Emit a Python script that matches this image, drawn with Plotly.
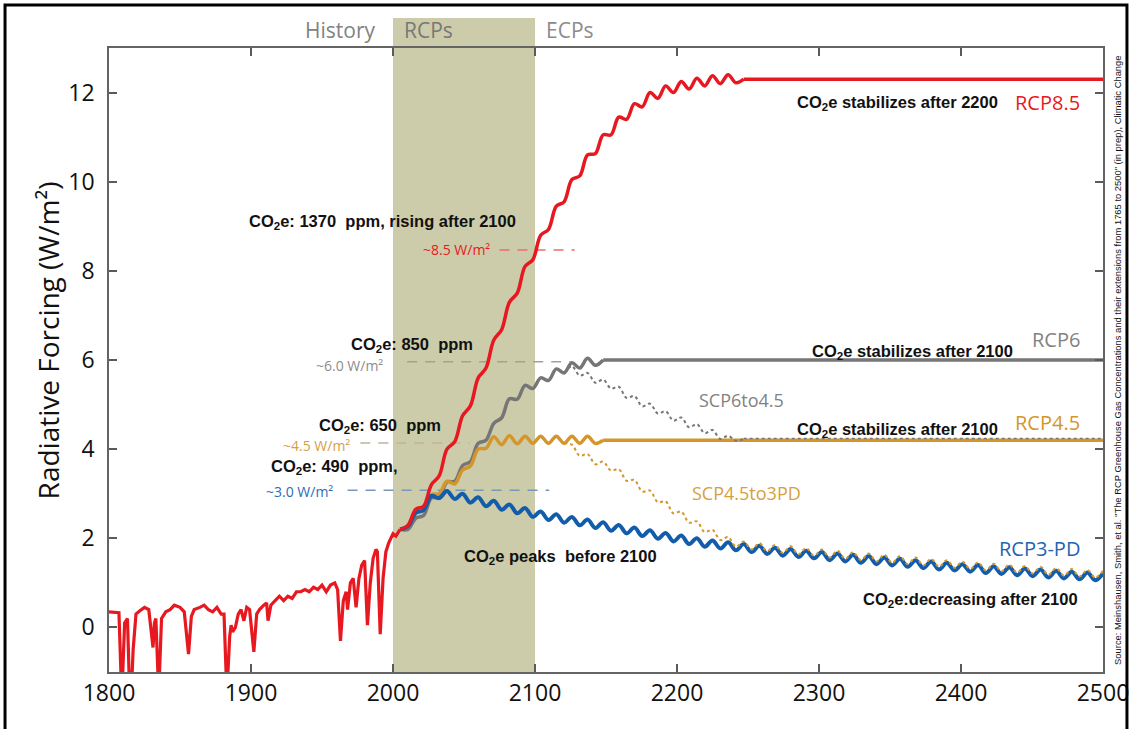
import plotly.graph_objects as go

# ---------------- data ----------------
hist_years = [1800, 1805, 1807, 1809, 1811, 1813, 1815, 1817, 1819, 1822, 1825, 1828,
              1831, 1832, 1833, 1835, 1837, 1840, 1843, 1846, 1850, 1853, 1856, 1858,
              1860, 1864, 1867, 1870, 1873, 1876, 1879, 1881, 1883, 1885, 1886, 1887,
              1889, 1891, 1893, 1895, 1897, 1899, 1902, 1904, 1906, 1909, 1911, 1912,
              1914, 1917, 1920, 1923, 1926, 1929, 1932, 1935, 1938, 1941, 1944, 1947,
              1950, 1953, 1956, 1959, 1961, 1963, 1965, 1967, 1968, 1970, 1972, 1974,
              1976, 1978, 1980, 1982, 1984, 1986, 1988, 1989, 1991, 1993, 1995, 1997,
              2000, 2002, 2005]
hist_vals = [0.35, 0.33, 0.33, -1.6, 0.1, 0.2, -2.0, -0.5, 0.3, 0.38, 0.45, 0.4,
             -0.45, 0.1, 0.2, -1.5, 0.2, 0.35, 0.4, 0.5, 0.45, 0.35, -0.6, 0.25,
             0.4, 0.45, 0.5, 0.4, 0.35, 0.45, 0.3, 0.3, -1.5, -0.2, 0.05, -0.1,
             0.0, 0.3, 0.4, 0.15, 0.45, 0.4, -0.55, 0.3, 0.4, 0.5, 0.55, 0.15,
             0.5, 0.6, 0.7, 0.6, 0.7, 0.65, 0.8, 0.8, 0.85, 0.8, 0.9, 0.85,
             0.95, 0.8, 0.95, 1.0, 0.85, -0.3, 0.6, 0.8, 0.4, 1.0, 1.1, 0.45,
             1.1, 1.4, 1.5, 0.05, 1.0, 1.55, 1.75, 1.7, -0.15, 1.1, 1.7, 1.9,
             2.1, 2.05, 2.2]

# sample years at peaks / troughs of the ~11-year solar cycle
years_grid = [2005, 2010.5, 2016, 2021.5, 2027, 2032.5, 2038, 2043.5, 2049, 2054.5,
              2060, 2065.5, 2071, 2076.5, 2082, 2087.5, 2093, 2098.5, 2104, 2109.5,
              2115, 2120.5, 2126, 2131.5, 2137, 2142.5, 2148, 2153.5, 2159, 2164.5,
              2170, 2175.5, 2181, 2186.5, 2192, 2197.5, 2203, 2208.5, 2214, 2219.5,
              2225, 2230.5, 2236, 2241.5, 2247, 2252.5, 2258, 2263.5, 2269, 2274.5,
              2280, 2285.5, 2291, 2296.5, 2302, 2307.5, 2313, 2318.5, 2324, 2329.5,
              2335, 2340.5, 2346, 2351.5, 2357, 2362.5, 2368, 2373.5, 2379, 2384.5,
              2390, 2395.5, 2401, 2406.5, 2412, 2417.5, 2423, 2428.5, 2434, 2439.5,
              2445, 2450.5, 2456, 2461.5, 2467, 2472.5, 2478, 2483.5, 2489, 2494.5, 2500]

rcp85_vals = [2.20, 2.29, 2.65, 2.72, 3.20, 3.40, 4.00, 4.17, 4.75, 4.97,
              5.60, 5.82, 6.45, 6.68, 7.30, 7.50, 8.10, 8.25, 8.80, 8.93,
              9.45, 9.55, 10.05, 10.13, 10.60, 10.63, 11.05, 11.05, 11.45, 11.40,
              11.75, 11.68, 12.00, 11.87, 12.15, 12.00, 12.25, 12.08, 12.32, 12.15,
              12.38, 12.20, 12.40, 12.22, 12.30]
rcp85_flat_years = [2247, 2500]
rcp85_flat_vals = [12.3, 12.3]

rcp6_vals = [2.20, 2.20, 2.45, 2.51, 2.90, 2.92, 3.26, 3.28, 3.63, 3.72,
             4.13, 4.20, 4.58, 4.70, 5.13, 5.12, 5.43, 5.36, 5.60, 5.54,
             5.80, 5.71, 5.94, 5.82, 6.04, 5.88, 6.00]
rcp6_flat_years = [2148, 2500]
rcp6_flat_vals = [6.0, 6.0]

rcp45_vals = [2.20, 2.27, 2.57, 2.63, 2.98, 3.00, 3.28, 3.22, 3.53, 3.62,
              4.00, 4.02, 4.28, 4.10, 4.30, 4.12, 4.29, 4.13, 4.29, 4.13,
              4.29, 4.13, 4.29, 4.13, 4.29, 4.13, 4.20]
rcp45_flat_years = [2148, 2500]
rcp45_flat_vals = [4.2, 4.2]

rcp3pd_vals = [2.20, 2.27, 2.57, 2.63, 2.95, 2.90, 3.06, 2.88, 3.00, 2.80,
               2.92, 2.72, 2.84, 2.64, 2.76, 2.56, 2.68, 2.48, 2.60, 2.41,
               2.54, 2.35, 2.48, 2.29, 2.42, 2.23, 2.36, 2.17, 2.30, 2.11,
               2.24, 2.05, 2.18, 1.99, 2.12, 1.93, 2.06, 1.87, 2.00, 1.81,
               1.95, 1.77, 1.91, 1.73, 1.87, 1.69, 1.83, 1.65, 1.79, 1.61,
               1.76, 1.58, 1.72, 1.55, 1.69, 1.51, 1.66, 1.48, 1.63, 1.45,
               1.60, 1.42, 1.57, 1.39, 1.54, 1.36, 1.51, 1.33, 1.48, 1.30,
               1.45, 1.28, 1.42, 1.25, 1.40, 1.22, 1.37, 1.20, 1.35, 1.17,
               1.32, 1.15, 1.30, 1.12, 1.27, 1.10, 1.25, 1.08, 1.23, 1.06, 1.21]

scp6to45_vals = [5.71, 5.86, 5.65, 5.71, 5.49, 5.56, 5.36, 5.40, 5.15, 5.19,
                 4.96, 5.02, 4.80, 4.85, 4.64, 4.71, 4.49, 4.56, 4.36, 4.43,
                 4.23, 4.30, 4.19, 4.23]
scp6to45_flat_years = [2247, 2500]
scp6to45_flat_vals = [4.24, 4.24]

scp45to3pd_vals = [4.13, 4.10, 3.85, 3.89, 3.66, 3.72, 3.52, 3.55, 3.29, 3.31,
                   3.05, 3.07, 2.81, 2.83, 2.56, 2.60, 2.35, 2.38, 2.14, 2.19,
                   1.96, 2.03, 1.81, 1.93,
                   1.75, 1.89, 1.71, 1.85, 1.67, 1.82, 1.64, 1.78, 1.61, 1.75,
                   1.57, 1.72, 1.54, 1.69, 1.51, 1.66, 1.48, 1.63, 1.45, 1.60,
                   1.42, 1.57, 1.39, 1.54, 1.36, 1.51, 1.34, 1.48, 1.31, 1.46,
                   1.28, 1.43, 1.26, 1.41, 1.23, 1.38, 1.21, 1.36, 1.18, 1.33,
                   1.16, 1.31, 1.14, 1.29, 1.12, 1.27]

x_ticks = [1800, 1900, 2000, 2100, 2200, 2300, 2400, 2500]
y_ticks = [0, 2, 4, 6, 8, 10, 12]

# ---------------- styles ----------------
RED = "rgb(232,24,32)"
GRAY = "rgb(118,118,118)"
ORANGE = "rgb(212,150,42)"
BLUE = "rgb(18,92,172)"
BAND = "rgb(204,204,170)"
SANS = "Open Sans, Noto Sans, sans-serif"
ARIAL = "Liberation Sans, Arial, sans-serif"

fig = go.Figure()

def wiggle(x, y, color, width, dash="solid"):
    fig.add_trace(go.Scatter(x=x, y=y, mode="lines",
                             line=dict(color=color, width=width, dash=dash,
                                       shape="spline", smoothing=1.0),
                             hoverinfo="skip"))

def flat(x, y, color, width, dash="solid"):
    fig.add_trace(go.Scatter(x=x, y=y, mode="lines",
                             line=dict(color=color, width=width, dash=dash),
                             hoverinfo="skip"))

# RCP6
wiggle(years_grid[:27], rcp6_vals, GRAY, 3.5)
flat(rcp6_flat_years, rcp6_flat_vals, GRAY, 3.5)
# RCP4.5
wiggle(years_grid[:27], rcp45_vals, ORANGE, 3.5)
flat(rcp45_flat_years, rcp45_flat_vals, ORANGE, 3.5)
# RCP3-PD
wiggle(years_grid, rcp3pd_vals, BLUE, 4)
# History
fig.add_trace(go.Scatter(x=hist_years, y=hist_vals, mode="lines",
                         line=dict(color=RED, width=3.2), hoverinfo="skip"))
# RCP8.5
wiggle(years_grid[:45], rcp85_vals, RED, 3.5)
flat(rcp85_flat_years, rcp85_flat_vals, RED, 3.5)
# SCP extensions (dotted)
wiggle(years_grid[21:45], scp6to45_vals, GRAY, 2, "dot")
flat(scp6to45_flat_years, scp6to45_flat_vals, GRAY, 1.6, "dot")
wiggle(years_grid[21:91], scp45to3pd_vals, ORANGE, 2, "dot")

shapes = [
    dict(type="rect", xref="x", yref="paper", x0=2000, x1=2100, y0=0, y1=1.048,
         fillcolor=BAND, line=dict(width=0), layer="below"),
    dict(type="line", xref="x", yref="y", x0=2075, x1=2128, y0=8.47, y1=8.47,
         line=dict(color="rgb(235,110,110)", width=1.5, dash="10px,8px"), layer="below"),
    dict(type="line", xref="x", yref="y", x0=2010, x1=2125, y0=5.96, y1=5.96,
         line=dict(color="rgb(160,160,160)", width=1.5, dash="10px,8px"), layer="below"),
    dict(type="line", xref="x", yref="y", x0=1977, x1=2054, y0=4.14, y1=4.14,
         line=dict(color="rgb(190,180,150)", width=1.5, dash="10px,8px"), layer="below"),
    dict(type="line", xref="x", yref="y", x0=1968, x1=2110, y0=3.08, y1=3.08,
         line=dict(color="rgb(120,150,185)", width=1.5, dash="10px,8px"), layer="below"),
    dict(type="rect", xref="paper", yref="paper", x0=-0.1046, x1=1.0241, y0=-0.2, y1=1.0689,
         line=dict(color="black", width=3), fillcolor="rgba(0,0,0,0)", layer="above"),
]

def co2(t):
    return t.replace("CO2", "CO<sub>2</sub>").replace("  ", "\u00a0\u00a0")

def ann(text, x, y, color="#111", size=16, family=ARIAL, xanchor="left", weight="normal", **kw):
    return dict(text=text, x=x, y=y, xref=kw.pop("xref", "x"), yref=kw.pop("yref", "y"),
                xanchor=xanchor, yanchor="middle", showarrow=False,
                font=dict(color=color, size=size, family=family, weight=weight), **kw)

B = dict(weight="bold", size=16.5)
SMALL = 14

annotations = [
    ann(co2("CO2e: 1370  ppm, rising after 2100"), 1897.2, 9.1, **B),
    ann("~8.5 W/m²", 2069.5, 8.47, color=RED, size=SMALL, family=SANS, xanchor="right"),
    ann(co2("CO2e: 850  ppm"), 1969, 6.33, **B),
    ann("~6.0 W/m²", 1994.4, 5.88, color="rgb(140,140,140)", size=SMALL, family=SANS, xanchor="right"),
    ann(co2("CO2e: 650  ppm"), 1946.5, 4.53, **B),
    ann("~4.5 W/m²", 1971, 4.09, color="rgb(215,160,70)", size=SMALL, family=SANS, xanchor="right"),
    ann(co2("CO2e: 490  ppm,"), 1913, 3.59, **B),
    ann("~3.0 W/m²", 1959, 3.05, color="rgb(40,110,185)", size=SMALL, family=SANS, xanchor="right"),
    ann(co2("CO2e stabilizes after 2200"), 2427.5, 11.77, xanchor="right", **B),
    ann("RCP8.5", 2485, 11.77, color=RED, size=20, family=SANS, xanchor="right"),
    ann("RCP6", 2485, 6.45, color="rgb(130,130,130)", size=20, family=SANS, xanchor="right"),
    ann(co2("CO2e stabilizes after 2100"), 2438, 6.18, xanchor="right", **B),
    ann("SCP6to4.5", 2214, 5.1, color="rgb(130,130,130)", size=18, family=SANS),
    ann("RCP4.5", 2485, 4.59, color=ORANGE, size=20, family=SANS, xanchor="right"),
    ann(co2("CO2e stabilizes after 2100"), 2427.5, 4.43, xanchor="right", **B),
    ann("SCP4.5to3PD", 2209, 3.02, color="rgb(215,160,60)", size=18, family=SANS),
    ann("RCP3-PD", 2485, 1.78, color="rgb(30,100,180)", size=20, family=SANS, xanchor="right"),
    ann(co2("CO2e peaks  before 2100"), 2048.6, 1.58, **B),
    ann(co2("CO2e:decreasing after 2100"), 2483.8, 0.62, xanchor="right", **B),
    # headers
    ann("History", 1989, 1.029, color="rgb(130,130,130)", size=21, family=SANS,
        xanchor="right", yref="paper"),
    ann("RCPs", 2006, 1.029, color="rgb(120,120,120)", size=21, family=SANS, yref="paper"),
    ann("ECPs", 2106, 1.029, color="rgb(140,140,140)", size=21, family=SANS, yref="paper"),
    # y title
    ann("Radiative Forcing (W/m²)", -0.061, 0.532, size=28, family=SANS, xanchor="center",
        xref="paper", yref="paper", textangle=-90),
    # source
    ann("Source: Meinshausen, Smith, et al. \"The RCP Greenhouse Gas Concentrations and their "
        "extensions from 1765 to 2500\" (in prep), Climatic Change",
        1.014, 0.5, size=9.4, family=ARIAL, xanchor="center", xref="paper", yref="paper",
        textangle=-90),
]

axis_common = dict(showline=True, linecolor="rgb(100,100,100)", linewidth=1.5,
                   mirror="ticks", ticks="inside", ticklen=8, tickwidth=1.5,
                   tickcolor="rgb(90,90,90)", showgrid=False, zeroline=False,
                   automargin=False,
                   tickfont=dict(family=SANS, size=23, color="#111"))

fig.update_layout(
    width=1132, height=729,
    margin=dict(l=109, r=29, t=48, b=57),
    paper_bgcolor="white", plot_bgcolor="white",
    showlegend=False,
    xaxis=dict(range=[1800, 2500], tickvals=x_ticks, **axis_common),
    yaxis=dict(range=[-1, 13], tickvals=y_ticks, ticklabelstandoff=8, **axis_common),
    shapes=shapes,
    annotations=annotations,
)

fig.write_html("out.html", config={"displayModeBar": False},
               post_script="document.body.style.margin='0px';")
